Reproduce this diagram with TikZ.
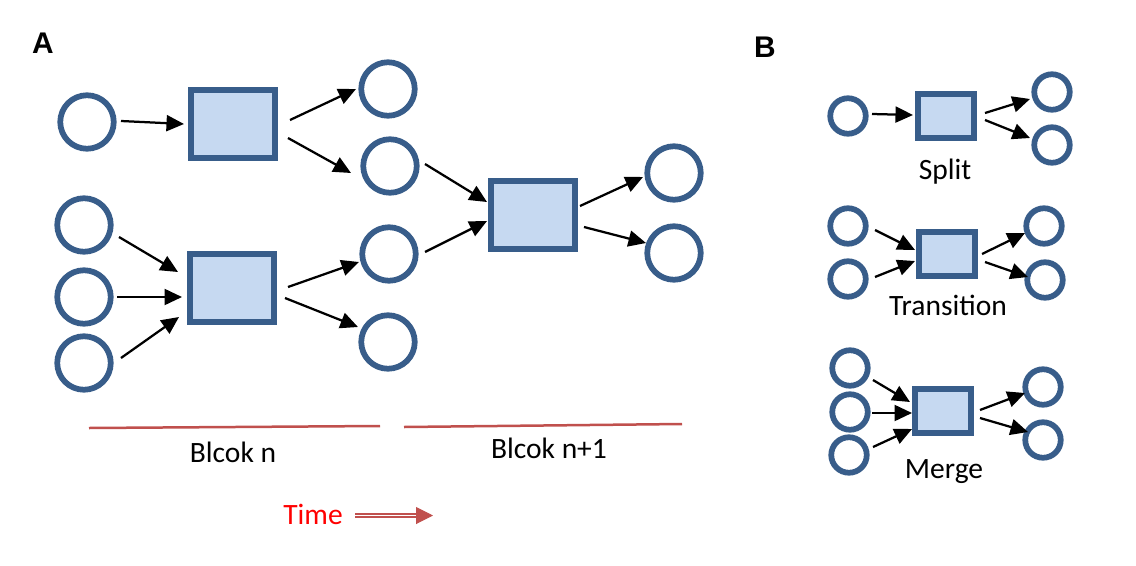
\documentclass[tikz,border=0pt]{standalone}
\usepackage{fontspec}
\setmainfont{Carlito}
\newfontfamily\headfont{Liberation Sans}
\usetikzlibrary{arrows.meta,calc}
\definecolor{ringblue}{HTML}{385D8A}
\definecolor{boxfill}{HTML}{C6D9F1}
\definecolor{blockred}{HTML}{C0504D}

\begin{document}
\begin{tikzpicture}[
  x=0.02cm,y=-0.02cm,
  state/.style={circle,draw=ringblue,line width=0.115cm,inner sep=0pt,minimum size=1.07cm},
  smallstate/.style={state,minimum size=0.71cm},
  event/.style={rectangle,draw=ringblue,fill=boxfill,line width=0.12cm,inner sep=0pt,minimum width=1.69cm,minimum height=1.35cm},
  smallevent/.style={event,minimum width=1.12cm,minimum height=0.88cm},
  arrow/.style={-{Triangle[length=0.35cm,width=0.32cm]},line width=0.045cm},
  block/.style={draw=blockred,line width=0.05cm},
  lbl/.style={anchor=base,font=\fontsize{16.8}{20}\selectfont},
  panel/.style={font=\headfont\bfseries\fontsize{17}{20}\selectfont}
]
\useasboundingbox (0,0) rectangle (1136,565);

% A: two blocks in time
\node[panel] (A) at (43,43) {A};
\node[state] (a1) at (87,122) {};
\node[event] (t1) at (233,124) {};
\node[state] (a2) at (388,89) {};
\node[state] (a3) at (390,166) {};
\node[state] (b1) at (84,225) {};
\node[state] (b2) at (84,297) {};
\node[state] (b3) at (84,363) {};
\node[event] (t2) at (232,288) {};
\node[state] (b4) at (389,254) {};
\node[state] (b5) at (388,342) {};
\node[event] (t3) at (533,215) {};
\node[state] (c1) at (674,173) {};
\node[state] (c2) at (674,253) {};

\draw[arrow] ($(a1)+(34,-1)$) -- ($(t1)+(-49,0)$);
\draw[arrow] ($(t1)+(57,-4)$) -- ($(a2)+(-32,0)$);
\draw[arrow] ($(t1)+(55,14)$) -- ($(a3)+(-39,7)$);
\draw[arrow] ($(a3)+(35,-2)$) -- ($(t3)+(-46,-13)$);
\draw[arrow] ($(b1)+(35,12)$) -- ($(t2)+(-54,-16)$);
\draw[arrow] ($(b2)+(33,0)$) -- ($(t2)+(-50,9)$);
\draw[arrow] ($(b3)+(37,-5)$) -- ($(t2)+(-53,29)$);
\draw[arrow] ($(t2)+(56,-1)$) -- ($(b4)+(-30,8)$);
\draw[arrow] ($(t2)+(53,10)$) -- ($(b5)+(-30,-15)$);
\draw[arrow] ($(b4)+(36,-2)$) -- ($(t3)+(-46,6)$);
\draw[arrow] ($(t3)+(47,-9)$) -- ($(c1)+(-31,4)$);
\draw[arrow] ($(t3)+(51,12)$) -- ($(c2)+(-28,-10)$);

\draw[block] (89,428) -- (380,426);
\draw[block] (404,427) -- (682,424);
\node[lbl] (bn) at (233,462) {Blcok n};
\node[lbl] (bn1) at (549,458) {Blcok n+1};

\node[lbl,text=red] (time) at (313,524) {Time};
\coordinate (ts) at (355,515.5);
\coordinate (te) at (433,515.5);
\draw[draw=blockred,double,double distance=0.035cm,line width=0.035cm,shorten >=0.3cm] (ts) -- (te);
\draw[blockred,line width=0.02cm,-{Triangle[length=0.34cm,width=0.34cm]}] ($(te)+(-17,0)$) -- (te);

% B: the three kinds of event
\node[panel] (B) at (765,47) {B};

\node[smallstate] (s1) at (848,116) {};
\node[smallevent] (sp) at (946,116) {};
\node[smallstate] (s2) at (1052,92) {};
\node[smallstate] (s3) at (1052,145) {};
\node[lbl] (splitlbl) at (945,179) {Split};
\draw[arrow] ($(s1)+(24,-2)$) -- ($(sp)+(-33,-1)$);
\draw[arrow] ($(sp)+(39,-3)$) -- ($(s2)+(-22,7)$);
\draw[arrow] ($(sp)+(39,4)$) -- ($(s3)+(-22,-7)$);

\node[smallstate] (tr1) at (848,226) {};
\node[smallstate] (tr2) at (848,279) {};
\node[smallevent] (tr) at (947,254) {};
\node[smallstate] (tr3) at (1044,226) {};
\node[smallstate] (tr4) at (1045,280) {};
\node[lbl] (translbl) at (948,315) {Transition};
\draw[arrow] ($(tr1)+(27,4)$) -- ($(tr)+(-32,-4)$);
\draw[arrow] ($(tr2)+(27,-2)$) -- ($(tr)+(-32,7)$);
\draw[arrow] ($(tr)+(35,0)$) -- ($(tr3)+(-19,7)$);
\draw[arrow] ($(tr)+(38,8)$) -- ($(tr4)+(-17,-3)$);

\node[smallstate] (m1) at (850,368) {};
\node[smallstate] (m2) at (850,412) {};
\node[smallstate] (m3) at (849,455) {};
\node[smallevent] (mg) at (943,411) {};
\node[smallstate] (m4) at (1043,387) {};
\node[smallstate] (m5) at (1043,440) {};
\node[lbl] (mergelbl) at (944,478) {Merge};
\draw[arrow] ($(m1)+(23,12)$) -- ($(mg)+(-33,-9)$);
\draw[arrow] ($(m2)+(22,1)$) -- ($(mg)+(-31,2)$);
\draw[arrow] ($(m3)+(24,-8)$) -- ($(mg)+(-31,18)$);
\draw[arrow] ($(mg)+(37,-1)$) -- ($(m4)+(-18,6)$);
\draw[arrow] ($(mg)+(37,7)$) -- ($(m5)+(-15,-8)$);
\end{tikzpicture}
\end{document}
